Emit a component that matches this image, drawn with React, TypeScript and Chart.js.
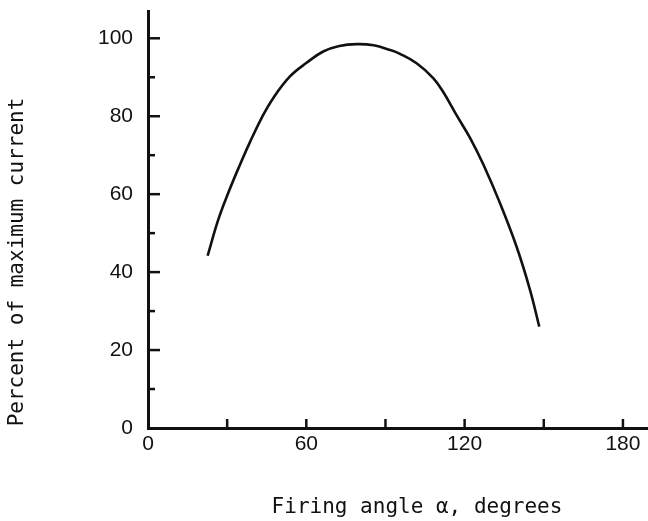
import React, { useEffect, useRef } from 'react';
import { Chart, registerables } from 'chart.js';

Chart.register(...registerables);

const firingAngle = [22.6, 26.6, 30.4, 34.5, 38.6, 43.1, 47.5, 53.8, 60.1, 66.4, 72.5, 79.1, 85.5, 91.7, 95.5, 101.8, 108.1, 111.9, 117.0, 122.0, 127.1, 133.4, 139.7, 144.8, 148.3];
const percentCurrent = [44.2, 53.4, 60.3, 67.0, 73.3, 79.6, 84.7, 90.2, 93.7, 96.6, 98.0, 98.5, 98.2, 97.0, 96.0, 93.6, 89.8, 86.2, 80.2, 74.5, 67.6, 57.7, 46.5, 35.4, 26.0];

const xLabelTicks = [0, 60, 120, 180];
const xTickMarks = [30, 60, 90, 120, 150, 180];
const yLabelTicks = [0, 20, 40, 60, 80, 100];
const yTickMarks = [10, 20, 30, 40, 50, 60, 70, 80, 90, 100];

const xTitle = 'Firing angle \u03b1, degrees';
const yTitle = 'Percent of maximum current';

const INK = '#111111';

const decorPlugin = {
  id: 'decor',
  afterDraw(chart: any) {
    const { ctx, scales } = chart;
    const x = scales.x;
    const y = scales.y;
    ctx.save();
    ctx.strokeStyle = INK;
    ctx.lineWidth = 2.5;
    ctx.lineCap = 'butt';
    for (const v of yTickMarks) {
      const py = y.getPixelForValue(v);
      const len = v % 20 === 0 ? 12 : 7;
      ctx.beginPath();
      ctx.moveTo(x.left, py);
      ctx.lineTo(x.left + len, py);
      ctx.stroke();
    }
    for (const v of xTickMarks) {
      const px = x.getPixelForValue(v);
      ctx.beginPath();
      ctx.moveTo(px, y.bottom);
      ctx.lineTo(px, y.bottom - 9);
      ctx.stroke();
    }
    ctx.fillStyle = INK;
    ctx.font = '21px "DejaVu Sans Mono"';
    ctx.textAlign = 'center';
    ctx.textBaseline = 'middle';
    ctx.fillText(xTitle, 417, 508);
    ctx.translate(18, 262);
    ctx.rotate(-Math.PI / 2);
    ctx.fillText(yTitle, 0, 0);
    ctx.restore();
  },
};

export default function App() {
  const ref = useRef<HTMLCanvasElement | null>(null);

  useEffect(() => {
    if (!ref.current) return;
    const chart = new Chart(ref.current, {
      type: 'line',
      data: {
        datasets: [
          {
            data: firingAngle.map((a, i) => ({ x: a, y: percentCurrent[i] })),
            borderColor: INK,
            borderWidth: 2.6,
            pointRadius: 0,
            fill: false,
            tension: 0.4,
          },
        ],
      },
      options: {
        animation: false,
        responsive: false,
        maintainAspectRatio: false,
        layout: { padding: { top: 11, right: 0, left: 0, bottom: 0 } },
        plugins: {
          legend: { display: false },
          tooltip: { enabled: false },
        },
        scales: {
          x: {
            type: 'linear',
            min: 0,
            max: 189.5,
            afterFit(scale: any) {
              scale.height = 93;
              scale.paddingLeft = 0;
              scale.paddingRight = 0;
            },
            afterBuildTicks(scale: any) {
              scale.ticks = xLabelTicks.map((v) => ({ value: v }));
            },
            grid: { display: false, drawTicks: false },
            border: { display: true, color: INK, width: 3 },
            ticks: {
              autoSkip: false,
              maxRotation: 0,
              padding: 4,
              color: INK,
              font: { family: '"Liberation Sans", Arial, sans-serif', size: 21 },
              callback: (v: any) => String(v),
            },
          },
          y: {
            type: 'linear',
            min: 0,
            max: 107,
            afterFit(scale: any) {
              scale.width = 148;
              scale.paddingTop = 0;
              scale.paddingBottom = 0;
            },
            afterBuildTicks(scale: any) {
              scale.ticks = yLabelTicks.map((v) => ({ value: v }));
            },
            grid: { display: false, drawTicks: false },
            border: { display: true, color: INK, width: 3 },
            ticks: {
              autoSkip: false,
              padding: 15,
              color: INK,
              font: { family: '"Liberation Sans", Arial, sans-serif', size: 21 },
              callback: (v: any) => String(v),
            },
          },
        },
      },
      plugins: [decorPlugin],
    } as any);
    return () => chart.destroy();
  }, []);

  return (
    <div style={{ position: 'fixed', left: 0, top: 0, width: 648, height: 521, background: '#fff' }}>
      <canvas ref={ref} width={648} height={521} style={{ display: 'block', width: 648, height: 521 }} />
    </div>
  );
}
